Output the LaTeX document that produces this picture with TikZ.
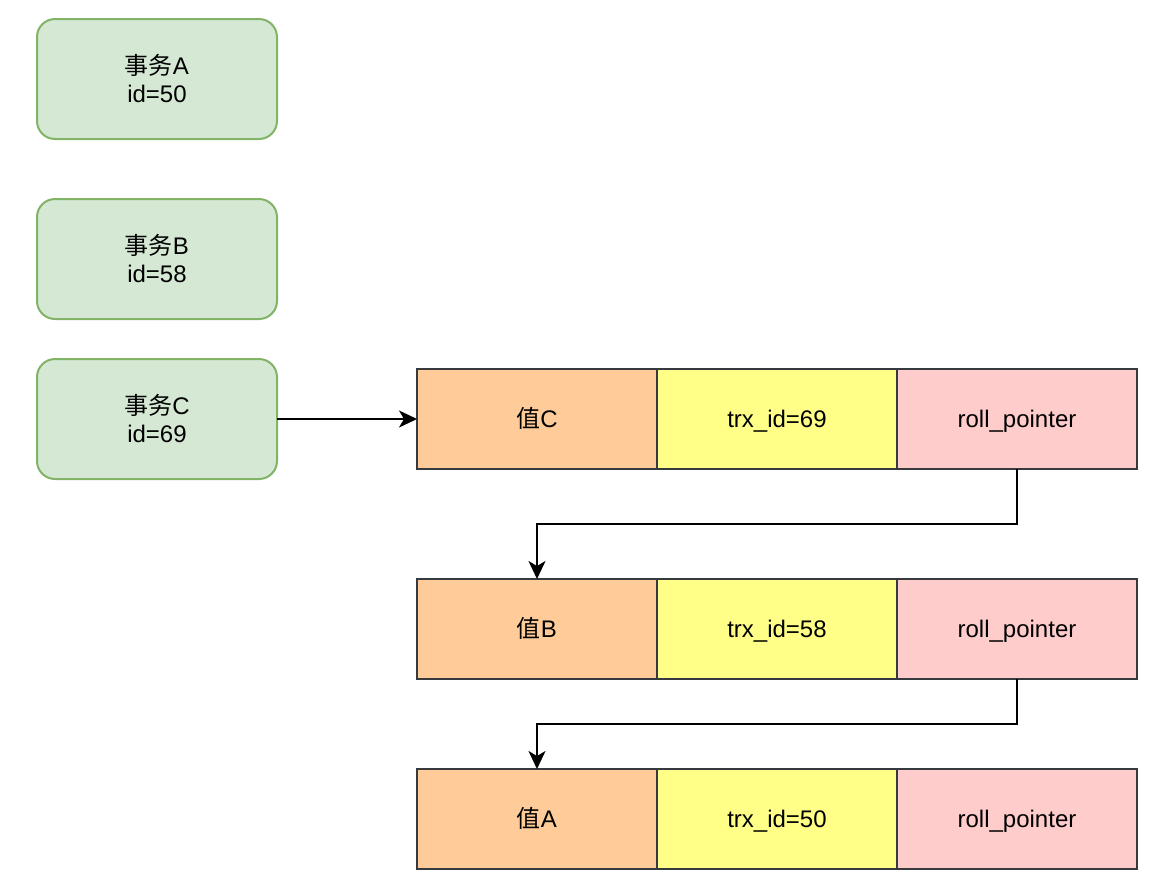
\documentclass[tikz,border=0pt]{standalone}
\usepackage{fontspec}
\setmainfont{Liberation Sans}
\newfontfamily\cjk{Noto Sans CJK SC}
\usepackage{xcolor}
\usetikzlibrary{arrows.meta,positioning,calc}

\definecolor{txfill}{HTML}{D5E8D4}
\definecolor{txline}{HTML}{82B366}
\definecolor{valfill}{HTML}{FFCC99}
\definecolor{trxfill}{HTML}{FFFF88}
\definecolor{rpfill}{HTML}{FFCCCC}
\definecolor{cellline}{HTML}{36393D}

\begin{document}
\begin{tikzpicture}[
  x=0.5pt, y=-0.5pt, >={Stealth[length=9pt, width=8.5pt, inset=2.5pt]},
  txbox/.style={draw=txline, rounded corners=9pt, line width=1pt, fill=txfill, minimum width=120pt, minimum height=60pt, inner sep=0pt, outer sep=0pt, align=center, font=\fontsize{12pt}{14pt}\selectfont},
  cell/.style={draw=cellline, line width=1pt, minimum width=120pt, minimum height=50pt, inner sep=0pt, outer sep=0pt, text height=10.6pt, text depth=2pt, font=\fontsize{12pt}{14pt}\selectfont},
  arrow/.style={->, line width=1pt, black}
]
\useasboundingbox (0,0) rectangle (1164,890);

% transactions
\node[txbox] (txA) at (157,79) {{\cjk 事务}A\\id=50};
\node[txbox, below=30pt of txA] (txB) {{\cjk 事务}B\\id=58};
\node[txbox, below=20pt of txB] (txC) {{\cjk 事务}C\\id=69};

% version chain
\node[cell, fill=valfill] (valC) at (537,419) {{\cjk 值}C};
\node[cell, fill=trxfill, right=0pt of valC] (trxC) {trx\_id=69};
\node[cell, fill=rpfill, right=0pt of trxC] (rpC) {roll\_pointer};

\node[cell, fill=valfill, below=55pt of valC] (valB) {{\cjk 值}B};
\node[cell, fill=trxfill, right=0pt of valB] (trxB) {trx\_id=58};
\node[cell, fill=rpfill, right=0pt of trxB] (rpB) {roll\_pointer};

\node[cell, fill=valfill, below=45pt of valB] (valA) {{\cjk 值}A};
\node[cell, fill=trxfill, right=0pt of valA] (trxA) {trx\_id=50};
\node[cell, fill=rpfill, right=0pt of trxA] (rpA) {roll\_pointer};

\draw[arrow] (txC) -- (valC);
\draw[arrow] (rpC.south) -- ++(0,55) -| (valB.north);
\draw[arrow] (rpB.south) -- ++(0,45) -| (valA.north);

\end{tikzpicture}
\end{document}
